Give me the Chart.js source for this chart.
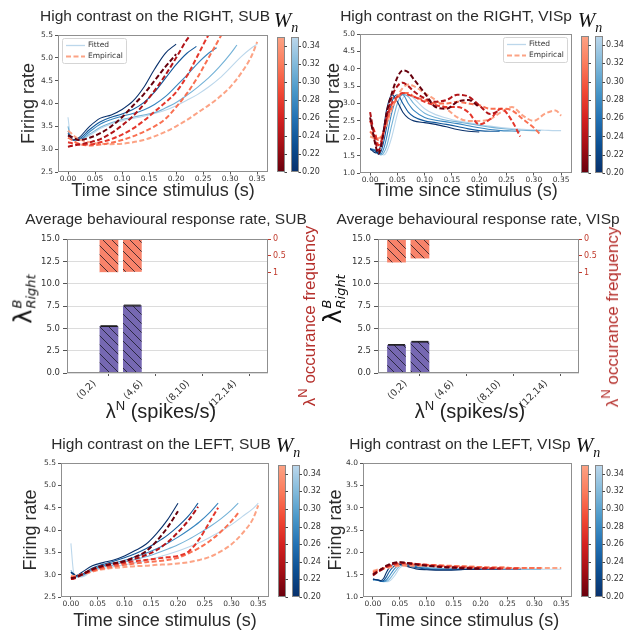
<!DOCTYPE html>
<html>
<head>
<meta charset="utf-8">
<script src="https://cdn.jsdelivr.net/npm/chart.js@4.4.1/dist/chart.umd.min.js"></script>
<style>
  body { margin: 0; background: #fff; }
  #fig { position: relative; width: 625px; height: 631px; overflow: hidden; background: #fff; }
  #fig canvas { position: absolute; }
  .txt { position: absolute; transform: translate(-50%, -50%); white-space: nowrap; color: #2b2b2b;
         font-family: 'Liberation Sans', Arial, sans-serif; line-height: 1; }
  .ttl { font-size: 15.5px; }
  .rot { transform: translate(-50%, -50%) rotate(-90deg); }
  .wn { font-family: 'Liberation Serif', 'DejaVu Serif', serif; font-style: italic; font-size: 21px; color: #111; }
  .wn sub { font-size: 14px; vertical-align: -5px; }
  .lamb { font-family: 'DejaVu Sans', sans-serif; font-size: 24px; color: #111; }
  .stk { display: inline-flex; flex-direction: column; font-size: 13px; line-height: 1.05; vertical-align: middle; margin-left: 1px; font-style: italic; }
  .xl { font-size: 20px; color: #222; }
  .xl sup, .fq sup { font-size: 13px; vertical-align: 8px; }
  .fq { font-size: 17px; color: #b5302c; }
</style>
</head>
<body>
<div id="fig">
  <canvas id="c1" width="325" height="205" style="left:0;top:0"></canvas>
  <canvas id="c2" width="313" height="205" style="left:312px;top:0"></canvas>
  <canvas id="c3" width="312" height="215" style="left:0;top:200px"></canvas>
  <canvas id="c4" width="313" height="215" style="left:312px;top:200px"></canvas>
  <canvas id="c5" width="325" height="216" style="left:0;top:415px"></canvas>
  <canvas id="c6" width="313" height="216" style="left:312px;top:415px"></canvas>

  <div class="txt ttl" style="left:155px;top:16px">High contrast on the RIGHT, SUB</div>
  <div class="txt ttl" style="left:456px;top:16px">High contrast on the RIGHT, VISp</div>
  <div class="txt ttl" style="left:166px;top:219px">Average behavioural response rate, SUB</div>
  <div class="txt ttl" style="left:478px;top:219px">Average behavioural response rate, VISp</div>
  <div class="txt ttl" style="left:161px;top:444px">High contrast on the LEFT, SUB</div>
  <div class="txt ttl" style="left:460px;top:444px">High contrast on the LEFT, VISp</div>

  <div class="txt wn" style="left:286px;top:22px">W<sub>n</sub></div>
  <div class="txt wn" style="left:590px;top:22px">W<sub>n</sub></div>
  <div class="txt wn" style="left:288px;top:447px">W<sub>n</sub></div>
  <div class="txt wn" style="left:588px;top:447px">W<sub>n</sub></div>

  <div class="txt rot lamb" style="left:24px;top:299px">λ<span class="stk"><span>B</span><span>Right</span></span></div>
  <div class="txt rot lamb" style="left:334px;top:299px">λ<span class="stk"><span>B</span><span>Right</span></span></div>
  <div class="txt rot fq" style="left:307px;top:316px">λ<sup>N</sup> occurance frequency</div>
  <div class="txt rot fq" style="left:610px;top:317px">λ<sup>N</sup> occurance frequency</div>
  <div class="txt xl" style="left:161px;top:410px">λ<sup>N</sup> (spikes/s)</div>
  <div class="txt xl" style="left:470px;top:410px">λ<sup>N</sup> (spikes/s)</div>
</div>

<script>
// --- data ---
const wnLevels = [0.20, 0.2375, 0.275, 0.3125, 0.35];
const endTimes = [0.20, 0.2375, 0.275, 0.3125, 0.35];
const wnTicks = [0.20, 0.22, 0.24, 0.26, 0.28, 0.30, 0.32, 0.34];
const timeTicks = [0, 0.05, 0.10, 0.15, 0.20, 0.25, 0.30, 0.35];

// sample times; each curve lists values at these times up to its end, last value is at its end time
const subTime = [0, 0.005, 0.01, 0.02, 0.04, 0.06, 0.08, 0.10, 0.12, 0.14, 0.16, 0.18, 0.20, 0.22, 0.24, 0.26, 0.28, 0.30, 0.32, 0.34];
const vispTime = [0, 0.01, 0.015, 0.02, 0.025, 0.03, 0.04, 0.05, 0.06, 0.07, 0.08, 0.10, 0.12, 0.14, 0.16, 0.18, 0.20, 0.22, 0.24, 0.26, 0.28, 0.30, 0.32, 0.34];

const subRightFit = [
  [3.3,3.25,3.2,3.25,3.5,3.68,3.75,3.87,4.05,4.35,4.75,5.1,5.3],
  [3.35,3.25,3.2,3.22,3.43,3.6,3.7,3.77,3.87,4.02,4.25,4.55,4.85,5.1,5.25],
  [3.4,3.25,3.2,3.2,3.38,3.55,3.65,3.72,3.78,3.86,3.98,4.15,4.38,4.62,4.88,5.1,5.22],
  [3.5,3.25,3.2,3.2,3.33,3.48,3.58,3.65,3.7,3.75,3.8,3.9,4.02,4.18,4.36,4.56,4.8,5.08,5.28],
  [3.7,3.25,3.2,3.2,3.3,3.45,3.55,3.62,3.67,3.72,3.78,3.85,3.95,4.07,4.2,4.36,4.55,4.78,5.02,5.22,5.3]
];
const subRightEmp = [
  [3.3,3.28,3.25,3.2,3.25,3.35,3.5,3.7,3.95,4.2,4.5,4.8,5.08],
  [3.05,3.07,3.08,3.1,3.15,3.22,3.35,3.52,3.72,3.98,4.28,4.62,5.0,5.4,5.65],
  [3.15,3.14,3.12,3.1,3.1,3.15,3.22,3.32,3.45,3.62,3.82,4.02,4.25,4.6,5.05,5.5,5.75],
  [3.25,3.22,3.18,3.12,3.08,3.1,3.14,3.2,3.28,3.38,3.5,3.66,3.92,4.22,4.58,5.0,5.42,5.85,6.05],
  [3.4,3.36,3.3,3.22,3.15,3.12,3.11,3.12,3.15,3.2,3.28,3.38,3.5,3.64,3.8,3.96,4.14,4.36,4.66,5.05,5.35]
];
const vispRightFit = [
  [1.7,1.58,1.6,1.85,2.3,2.8,3.25,3.05,2.75,2.58,2.5,2.45,2.4,2.33,2.25,2.2,2.18],
  [1.7,1.62,1.55,1.62,1.9,2.3,3.05,3.25,3.0,2.75,2.62,2.5,2.45,2.4,2.34,2.27,2.22,2.2,2.2],
  [1.7,1.65,1.55,1.55,1.7,2.0,2.75,3.2,3.25,3.0,2.8,2.6,2.52,2.47,2.42,2.36,2.3,2.25,2.22,2.21,2.2],
  [1.68,1.66,1.58,1.52,1.58,1.75,2.4,3.0,3.27,3.2,3.0,2.72,2.6,2.52,2.47,2.42,2.37,2.32,2.28,2.25,2.23,2.22,2.22],
  [1.65,1.66,1.62,1.55,1.52,1.6,2.05,2.7,3.15,3.25,3.15,2.85,2.68,2.58,2.5,2.45,2.4,2.35,2.31,2.28,2.26,2.24,2.23,2.22,2.22]
];
const vispRightEmp = [
  [2.6,1.8,1.55,1.75,2.2,2.7,3.3,3.75,3.95,3.9,3.7,3.3,2.9,2.85,3.05,3.1,2.9],
  [2.75,1.9,1.65,1.8,2.2,2.6,3.2,3.5,3.6,3.5,3.35,3.15,3.05,3.1,3.25,3.2,2.95,2.7,2.8],
  [2.5,2.1,1.8,1.9,2.2,2.55,3.0,3.2,3.3,3.25,3.2,3.05,2.95,2.9,2.9,2.75,2.4,2.55,2.85,2.5,2.05],
  [2.2,2.0,1.95,2.0,2.2,2.45,2.9,3.15,3.3,3.3,3.2,3.1,3.0,3.0,3.05,3.0,2.95,2.85,2.85,2.8,2.55,2.3,2.1],
  [2.05,2.0,2.0,2.05,2.2,2.4,2.85,3.2,3.45,3.55,3.5,3.3,3.1,2.85,2.6,2.5,2.5,2.55,2.75,2.9,2.65,2.5,2.7,2.8,2.65]
];
const subLeftFit = [
  [3.05,3.02,2.98,3.05,3.2,3.27,3.33,3.42,3.54,3.68,3.92,4.22,4.6],
  [3.05,3.0,2.97,3.0,3.15,3.23,3.3,3.38,3.47,3.58,3.72,3.88,4.08,4.32,4.6],
  [3.05,3.0,2.96,2.98,3.12,3.2,3.26,3.32,3.4,3.48,3.58,3.7,3.84,4.0,4.18,4.4,4.6],
  [3.1,3.0,2.95,2.97,3.1,3.17,3.22,3.28,3.34,3.4,3.48,3.57,3.67,3.79,3.93,4.08,4.25,4.45,4.6],
  [3.7,3.05,2.95,2.95,3.08,3.14,3.18,3.22,3.27,3.32,3.38,3.45,3.53,3.62,3.72,3.84,3.97,4.12,4.3,4.48,4.6]
];
const subLeftEmp = [
  [2.92,2.93,2.95,3.0,3.12,3.2,3.25,3.3,3.4,3.52,3.75,4.05,4.42],
  [2.9,2.91,2.93,3.0,3.12,3.2,3.25,3.3,3.36,3.44,3.55,3.72,3.95,4.22,4.52],
  [2.92,2.93,2.95,3.0,3.1,3.17,3.22,3.26,3.3,3.33,3.36,3.39,3.42,3.52,3.8,4.2,4.5],
  [2.95,2.95,2.96,3.0,3.08,3.14,3.18,3.22,3.25,3.28,3.3,3.33,3.38,3.48,3.6,3.76,3.96,4.2,4.38],
  [2.98,2.97,2.98,3.0,3.07,3.12,3.15,3.17,3.19,3.2,3.22,3.23,3.25,3.28,3.33,3.4,3.52,3.68,3.92,4.25,4.55]
];
const vispLeftFit = [
  [1.4,1.38,1.37,1.42,1.55,1.65,1.74,1.73,1.7,1.66,1.63,1.61,1.6,1.6,1.61,1.62,1.62],
  [1.4,1.37,1.35,1.37,1.45,1.56,1.7,1.74,1.72,1.69,1.66,1.62,1.61,1.61,1.61,1.62,1.62,1.62,1.62],
  [1.39,1.38,1.35,1.35,1.38,1.46,1.63,1.73,1.74,1.71,1.68,1.64,1.62,1.62,1.62,1.62,1.62,1.62,1.62,1.62,1.62],
  [1.38,1.38,1.36,1.34,1.35,1.39,1.55,1.7,1.74,1.73,1.7,1.66,1.64,1.63,1.63,1.62,1.62,1.62,1.62,1.62,1.62,1.62,1.62],
  [1.37,1.38,1.37,1.35,1.34,1.35,1.47,1.65,1.73,1.74,1.72,1.68,1.65,1.64,1.63,1.63,1.63,1.62,1.62,1.62,1.62,1.62,1.62,1.62,1.62]
];
const vispLeftEmp = [
  [1.5,1.58,1.62,1.66,1.7,1.73,1.77,1.78,1.77,1.75,1.73,1.7,1.68,1.66,1.65,1.64,1.64],
  [1.48,1.57,1.6,1.64,1.68,1.71,1.75,1.77,1.76,1.75,1.74,1.71,1.68,1.67,1.66,1.65,1.64,1.64,1.64],
  [1.52,1.58,1.61,1.64,1.67,1.7,1.74,1.76,1.76,1.75,1.74,1.72,1.7,1.68,1.67,1.66,1.65,1.65,1.64,1.64,1.64],
  [1.55,1.6,1.62,1.64,1.66,1.68,1.71,1.73,1.73,1.73,1.72,1.72,1.71,1.7,1.69,1.68,1.67,1.66,1.66,1.65,1.65,1.65,1.65],
  [1.58,1.62,1.63,1.64,1.65,1.66,1.68,1.7,1.7,1.7,1.7,1.7,1.7,1.69,1.69,1.68,1.67,1.66,1.66,1.65,1.65,1.65,1.65,1.65,1.65]
];

// bar panels
const rateBins = ['(0,2)', '(2,4)', '(4,6)', '(6,8)', '(8,10)', '(10,12)', '(12,14)', '(14,16)'];
const binTickIdx = [0, 2, 4, 6];
const rateTicks = [0, 2.5, 5, 7.5, 10, 12.5, 15];
const freqTicks = [0, 0.5, 1];
const subRate = [0, 5.25, 7.55, 0, 0, 0, 0, 0];
const subRateErr = [0, 0.04, 0.05, 0, 0, 0, 0, 0];
const subFreq = [0.02, 0.99, 0.98, 0.01, 0.01, 0.01, 0.01, 0.01];
const vispRate = [3.15, 3.5, 0, 0, 0, 0, 0, 0];
const vispRateErr = [0.03, 0.04, 0, 0, 0, 0, 0, 0];
const vispFreq = [0.7, 0.58, 0.01, 0.01, 0.01, 0.01, 0.01, 0.01];

const legendLabels = ['Fitted', 'Empirical'];

// --- styling ---
const redStops = ['#67000d', '#a50f15', '#d52221', '#f24a35', '#fb7c5c', '#fca385'];
const blueStops = ['#08306b', '#0c4f92', '#2372b4', '#4a98c9', '#82badb', '#bcd7eb'];
const frameColor = '#8f8f8f';
const tickColor = '#333';
const freqColor = '#c0392b';
const purple = '#7668b2';
const salmon = '#f8836a';

function hexRgb(h) {
  return [1, 3, 5].map(i => parseInt(h.slice(i, i + 2), 16));
}
function mix(stops, t) {
  const n = stops.length - 1;
  const k = Math.min(n - 1, Math.floor(t * n));
  const f = t * n - k;
  const a = hexRgb(stops[k]), b = hexRgb(stops[k + 1]);
  return 'rgb(' + a.map((c, i) => Math.round(c + (b[i] - c) * f)).join(',') + ')';
}
const wnMin = 0.20, wnMax = 0.35;
const wnT = w => (w - wnMin) / (wnMax - wnMin);

function buildCurve(grid, vals, end) {
  const pts = vals.slice(0, -1).map((v, i) => ({x: grid[i], y: v}));
  pts.push({x: end, y: vals[vals.length - 1]});
  return pts;
}

function hatch(color) {
  const s = 9;
  const pc = document.createElement('canvas');
  pc.width = s; pc.height = s;
  const c = pc.getContext('2d');
  c.fillStyle = color;
  c.fillRect(0, 0, s, s);
  c.strokeStyle = 'rgba(20,20,30,0.85)';
  c.lineWidth = 0.9;
  c.beginPath();
  c.moveTo(0, 0); c.lineTo(s, s);
  c.moveTo(-1, s - 1); c.lineTo(1, s + 1);
  c.moveTo(s - 1, -1); c.lineTo(s + 1, 1);
  c.stroke();
  return c.createPattern(pc, 'repeat');
}

const framePlugin = {
  id: 'frame',
  afterDraw(chart) {
    const {ctx, chartArea: a} = chart;
    ctx.save();
    ctx.strokeStyle = frameColor;
    ctx.lineWidth = 1;
    ctx.strokeRect(Math.round(a.left) + 0.5, Math.round(a.top) + 0.5,
      Math.round(a.right - a.left) - 1, Math.round(a.bottom - a.top) - 1);
    ctx.restore();
  }
};

const legendPlugin = {
  id: 'lineLegend',
  afterDraw(chart, args, opts) {
    if (!opts.side) return;
    const {ctx, chartArea: a} = chart;
    const w = 64, h = 25;
    const x = opts.side === 'left' ? a.left + 4 : a.right - w - 5;
    const y = a.top + 3;
    ctx.save();
    ctx.fillStyle = 'rgba(255,255,255,0.85)';
    ctx.strokeStyle = '#d5d5d5';
    ctx.lineWidth = 1;
    ctx.beginPath();
    ctx.roundRect(x + 0.5, y + 0.5, w, h, 2);
    ctx.fill();
    ctx.stroke();
    const styles = [
      {color: blueStops[blueStops.length - 1], width: 1.3, dash: []},
      {color: redStops[redStops.length - 1], width: 2, dash: [5, 2.5]}
    ];
    ctx.font = '7.5px "DejaVu Sans"';
    ctx.textBaseline = 'middle';
    legendLabels.forEach((lab, i) => {
      const ly = y + 7.5 + i * 11;
      ctx.strokeStyle = styles[i].color;
      ctx.lineWidth = styles[i].width;
      ctx.setLineDash(styles[i].dash);
      ctx.beginPath();
      ctx.moveTo(x + 4, ly);
      ctx.lineTo(x + 23, ly);
      ctx.stroke();
      ctx.setLineDash([]);
      ctx.fillStyle = '#333';
      ctx.fillText(lab, x + 26, ly);
    });
    ctx.restore();
  }
};

const wnBarPlugin = {
  id: 'wnBar',
  afterDraw(chart, args, opts) {
    if (!opts.show) return;
    const {ctx, chartArea: a} = chart;
    const top = a.top + 2, bot = a.bottom;
    const yOf = v => bot - wnT(v) * (bot - top);
    ctx.save();
    [[redStops, 9], [blueStops, 23]].forEach(([stops, dx], k) => {
      const x = Math.round(a.right + dx);
      const g = ctx.createLinearGradient(0, bot, 0, top);
      stops.forEach((c, i) => g.addColorStop(i / (stops.length - 1), c));
      ctx.fillStyle = g;
      ctx.fillRect(x, top, 7, bot - top);
      ctx.strokeStyle = '#888';
      ctx.lineWidth = 1;
      ctx.strokeRect(x + 0.5, top + 0.5, 7, bot - top - 1);
      ctx.strokeStyle = '#444';
      wnTicks.forEach(v => {
        const y = Math.round(yOf(v)) + 0.5;
        ctx.beginPath();
        ctx.moveTo(x + 7.5, y);
        ctx.lineTo(x + 10, y);
        ctx.stroke();
      });
      if (k === 1) {
        ctx.fillStyle = tickColor;
        ctx.font = '8px "DejaVu Sans"';
        ctx.textBaseline = 'middle';
        wnTicks.forEach(v => ctx.fillText(v.toFixed(2), x + 11, yOf(v)));
      }
    });
    ctx.restore();
  }
};

const errPlugin = {
  id: 'errBars',
  afterDatasetsDraw(chart, args, opts) {
    if (!opts.err) return;
    const meta = chart.getDatasetMeta(0);
    const ys = chart.scales.y;
    const {ctx} = chart;
    ctx.save();
    ctx.strokeStyle = '#1a1a1a';
    ctx.lineWidth = 1;
    meta.data.forEach((el, i) => {
      const e = opts.err[i];
      if (!e) return;
      const v = chart.data.datasets[0].data[i].y;
      const hw = el.width * 0.45;
      [v - e, v + e].forEach(val => {
        const y = ys.getPixelForValue(val);
        ctx.beginPath();
        ctx.moveTo(el.x - hw, y);
        ctx.lineTo(el.x + hw, y);
        ctx.stroke();
      });
    });
    ctx.restore();
  }
};

const tickFont = {family: 'DejaVu Sans', size: 7.5};

function linePanel(id, p) {
  const datasets = [];
  p.emp.forEach((vals, i) => datasets.push({
    data: buildCurve(p.grid, vals, endTimes[i]),
    borderColor: mix(redStops, wnT(wnLevels[i])),
    borderWidth: 2,
    borderDash: [5, 2.5],
    pointRadius: 0,
    cubicInterpolationMode: 'monotone',
    fill: false
  }));
  p.fit.forEach((vals, i) => datasets.push({
    data: buildCurve(p.grid, vals, endTimes[i]),
    borderColor: mix(blueStops, wnT(wnLevels[i])),
    borderWidth: 1.1,
    pointRadius: 0,
    cubicInterpolationMode: 'monotone',
    fill: false
  }));
  new Chart(document.getElementById(id), {
    type: 'line',
    data: {datasets},
    options: {
      responsive: false,
      animation: false,
      devicePixelRatio: 1,
      events: [],
      layout: {padding: {top: p.padTop, right: p.padRight, left: 0, bottom: 0}},
      plugins: {
        legend: {display: false},
        tooltip: {enabled: false},
        lineLegend: {side: p.legend},
        wnBar: {show: true}
      },
      scales: {
        x: {
          type: 'linear', min: -0.0185, max: 0.37,
          afterBuildTicks: s => { s.ticks = timeTicks.map(v => ({value: v})); },
          afterFit: s => { s.height = p.xH; },
          ticks: {callback: v => v.toFixed(2), font: tickFont, color: tickColor, padding: 0, maxRotation: 0, autoSkip: false},
          grid: {drawOnChartArea: false, tickLength: 2.5, tickColor: '#555'},
          border: {display: false},
          title: {display: true, text: 'Time since stimulus (s)', color: '#2b2b2b',
                  font: {family: 'Liberation Sans', size: 18}, padding: {top: 0, bottom: p.xTitlePad}}
        },
        y: {
          min: p.yMin, max: p.yMax,
          afterBuildTicks: s => { s.ticks = p.yTicks.map(v => ({value: v})); },
          afterFit: s => { s.width = p.yW; },
          ticks: {callback: v => v.toFixed(1), font: tickFont, color: tickColor, padding: 2},
          grid: {drawOnChartArea: false, tickLength: 3, tickColor: '#555'},
          border: {display: false},
          title: {display: true, text: 'Firing rate', color: '#2b2b2b',
                  font: {family: 'Liberation Sans', size: 18}, padding: {top: p.yTitlePad, bottom: 0}}
        }
      }
    },
    plugins: [framePlugin, legendPlugin, wnBarPlugin]
  });
}

function barPanel(id, p) {
  new Chart(document.getElementById(id), {
    type: 'bar',
    data: {
      datasets: [
        {data: p.rate.map((v, i) => ({x: i, y: v})), yAxisID: 'y', backgroundColor: hatch(purple),
         grouped: false, categoryPercentage: 1, barPercentage: 0.8, borderWidth: 0},
        {data: p.freq.map((v, i) => ({x: i, y: v})), yAxisID: 'yf', backgroundColor: hatch(salmon),
         grouped: false, categoryPercentage: 1, barPercentage: 0.8, borderWidth: 0}
      ]
    },
    options: {
      responsive: false,
      animation: false,
      devicePixelRatio: 1,
      events: [],
      layout: {padding: {top: 39, right: 0, left: 0, bottom: 0}},
      plugins: {legend: {display: false}, tooltip: {enabled: false}, errBars: {err: p.err}},
      scales: {
        x: {
          type: 'linear', min: -0.79, max: 7.79, offset: false,
          afterBuildTicks: s => { s.ticks = binTickIdx.map(v => ({value: v})); },
          afterFit: s => { s.height = 42; },
          ticks: {callback: v => rateBins[v], font: {family: 'DejaVu Sans', size: 9.5}, color: tickColor,
                  minRotation: 45, maxRotation: 45, padding: 2, labelOffset: 9, autoSkip: false},
          grid: {drawOnChartArea: false, tickLength: 3, tickColor: '#555'},
          border: {display: false}
        },
        y: {
          position: 'left', min: 0, max: 15,
          afterBuildTicks: s => { s.ticks = rateTicks.map(v => ({value: v})); },
          afterFit: s => { s.width = p.yW; },
          ticks: {callback: v => v.toFixed(1), font: {family: 'DejaVu Sans', size: 8.5}, color: tickColor, padding: 3},
          grid: {color: '#dcdcdc', tickLength: 4, tickColor: '#555'},
          border: {display: false}
        },
        yf: {
          position: 'right', reverse: true, min: 0, max: 4,
          afterBuildTicks: s => { s.ticks = freqTicks.map(v => ({value: v})); },
          afterFit: s => { s.width = p.rW; },
          ticks: {callback: v => String(v), font: {family: 'DejaVu Sans', size: 8}, color: freqColor, padding: 2},
          grid: {drawOnChartArea: false, tickLength: 3, tickColor: freqColor},
          border: {display: false}
        }
      }
    },
    plugins: [framePlugin, errPlugin]
  });
}

const subYTicks = [2.5, 3.0, 3.5, 4.0, 4.5, 5.0, 5.5];

linePanel('c1', {grid: subTime, fit: subRightFit, emp: subRightEmp, yMin: 2.5, yMax: 5.5, yTicks: subYTicks,
  padTop: 35, padRight: 57, yW: 58, xH: 33, xTitlePad: 3, yTitlePad: 18, legend: 'left'});
linePanel('c2', {grid: vispTime, fit: vispRightFit, emp: vispRightEmp, yMin: 1.0, yMax: 5.0,
  yTicks: [1.0, 1.5, 2.0, 2.5, 3.0, 3.5, 4.0, 4.5, 5.0],
  padTop: 34, padRight: 53, yW: 48, xH: 32, xTitlePad: 3, yTitlePad: 11, legend: 'right'});
barPanel('c3', {rate: subRate, err: subRateErr, freq: subFreq, yW: 67, rW: 44});
barPanel('c4', {rate: vispRate, err: vispRateErr, freq: vispFreq, yW: 66, rW: 46});
linePanel('c5', {grid: subTime, fit: subLeftFit, emp: subLeftEmp, yMin: 2.5, yMax: 5.5, yTicks: subYTicks,
  padTop: 48, padRight: 56, yW: 61, xH: 34, xTitlePad: -1, yTitlePad: 20, legend: null});
linePanel('c6', {grid: vispTime, fit: vispLeftFit, emp: vispLeftEmp, yMin: 1.0, yMax: 4.0,
  yTicks: [1.0, 1.5, 2.0, 2.5, 3.0, 3.5, 4.0],
  padTop: 48, padRight: 53, yW: 51, xH: 34, xTitlePad: -1, yTitlePad: 13, legend: null});
</script>
</body>
</html>
